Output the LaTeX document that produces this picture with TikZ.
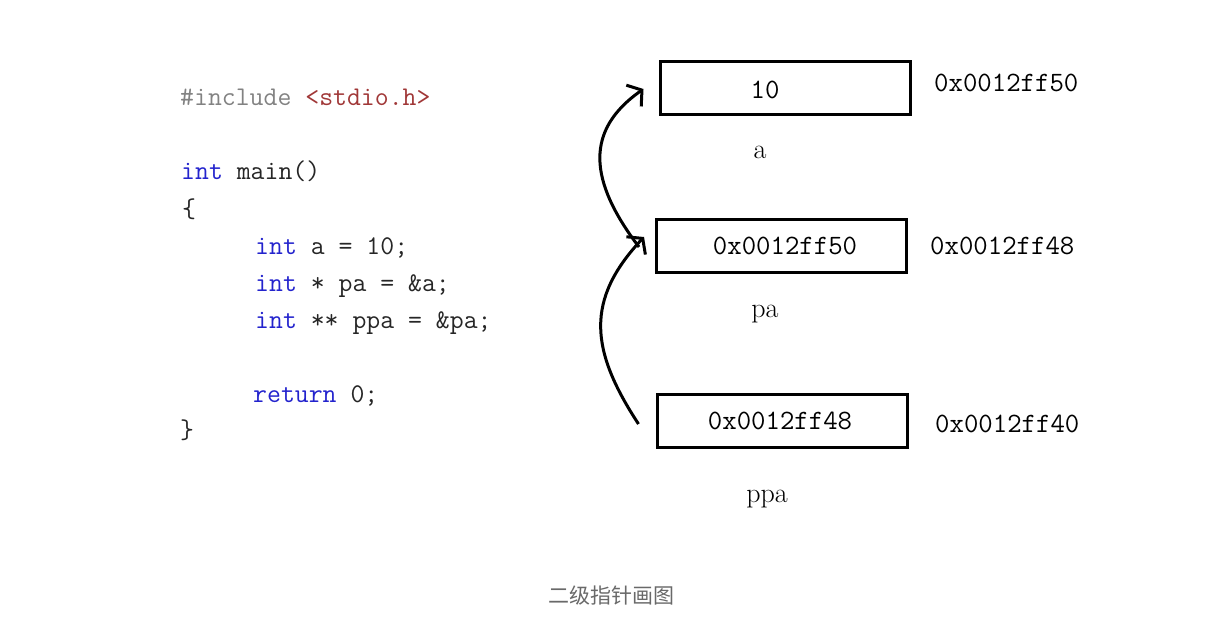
\documentclass[tikz,border=0pt]{standalone}
\usepackage{fontspec}
\newfontfamily\cjk{Noto Sans CJK SC}
\usetikzlibrary{positioning}
\usetikzlibrary{arrows.meta}

\definecolor{kwblue}{RGB}{35,35,205}
\definecolor{incred}{RGB}{160,55,55}
\definecolor{pregray}{RGB}{130,130,130}
\definecolor{capgray}{RGB}{105,105,105}

\tikzset{
	code/.style={anchor=base west,inner sep=0pt,text=black!85,font=\fontsize{27}{27}\ttfamily},
	cell/.style={draw,line width=3pt,minimum width=250pt,minimum height=53pt,inner sep=0pt},
	val/.style={anchor=base,inner sep=0pt,font=\fontsize{28}{28}\ttfamily},
	addr/.style={anchor=base west,inner sep=0pt,font=\fontsize{28}{28}\ttfamily},
	varname/.style={anchor=base,inner sep=0pt,font=\fontsize{28}{28}\selectfont},
	ptr/.style={-{Straight Barb[length=10pt,width=26pt]},line width=3pt}
}

\begin{document}
\begin{tikzpicture}[x=1pt,y=-1pt]
	\useasboundingbox (0,0) rectangle (1220,631);
	% исходный код
	\node[code] (l1) at (180,106) {{\color{pregray}\#include} {\color{incred}<stdio.h>}};
	\node[code] (l2) at (181,180) {{\color{kwblue}int} main()};
	\node[code] (l3) at (182,217) {\{};
	\node[code] (l4) at (255,254) {{\color{kwblue}int} a = 10;};
	\node[code] (l5) at (255,291) {{\color{kwblue}int} * pa = \&a;};
	\node[code] (l6) at (255,328) {{\color{kwblue}int} ** ppa = \&pa;};
	\node[code] (l7) at (253,402) {{\color{kwblue}return} 0;};
	\node[code] (l8) at (180,438) {\}};
	% ячейки памяти
	\node[cell] (a) at (785,88.5) {};
	\node[cell] (pa) at (781.5,246) {};
	\node[cell] (ppa) at (782,421) {};
	\node[val] (a-val) at (765,98.5) {10};
	\node[val] (pa-val) at (785,254.5) {0x0012ff50};
	\node[val] (ppa-val) at (780,429.5) {0x0012ff48};
	% адреса
	\node[addr] (a-addr) at (934,91.5) {0x0012ff50};
	\node[addr] (pa-addr) at (930,254.5) {0x0012ff48};
	\node[addr] (ppa-addr) at (935,432.5) {0x0012ff40};
	% имена
	\node[varname] (a-name) at (760,159) {a};
	\node[varname] (pa-name) at (765,317) {pa};
	\node[varname] (ppa-name) at (767,502) {ppa};
	% указатели
	\draw[ptr] ([xshift=-17pt,yshift=-3pt]ppa.west) .. controls (590,350) and (585,300) .. ([xshift=-11pt,yshift=9pt]pa.west);
	\draw[ptr] ([xshift=-16pt,yshift=-1pt]pa.west) .. controls (588,180) and (585,130) .. ([xshift=-15pt,yshift=-0.5pt]a.west);
	\node[font=\cjk\fontsize{21}{21}\selectfont,text=capgray] (caption) at (611,596) {二级指针画图};
\end{tikzpicture}
\end{document}
